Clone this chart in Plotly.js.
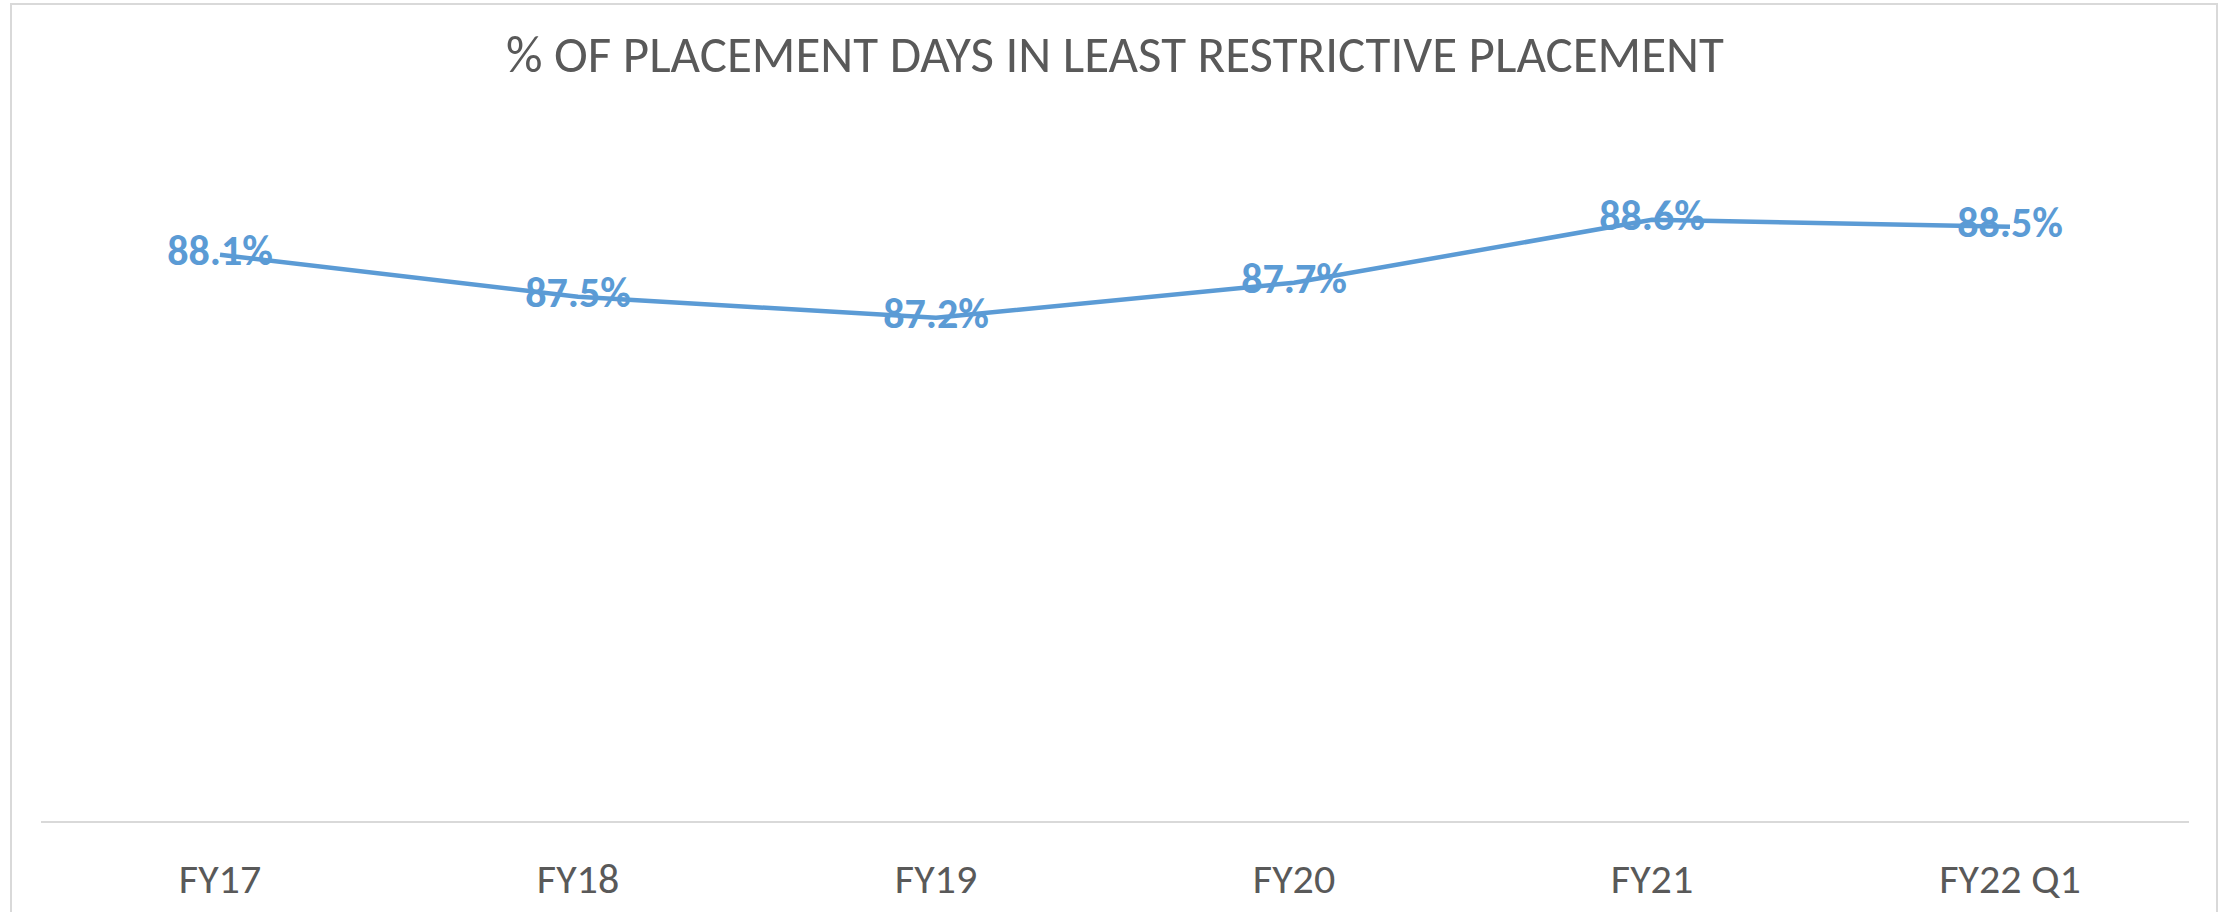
<!DOCTYPE html>
<html>
<head>
<meta charset="utf-8">
<script src="https://cdn.plot.ly/plotly-3.0.1.min.js"></script>
<style>
  html, body { margin: 0; padding: 0; background: #ffffff; overflow: hidden; }
  #frame { position: absolute; left: 10px; top: 3px; width: 2208px; height: 940px; border: 2px solid #d9d9d9; box-sizing: border-box; pointer-events: none; z-index: 5; }
  #chart { position: absolute; left: 0; top: 0; width: 2234px; height: 912px; }
</style>
</head>
<body>
<div id="chart"></div>
<div id="frame"></div>
<script>
const categories = ["FY17", "FY18", "FY19", "FY20", "FY21", "FY22 Q1"];
const values = [0.881, 0.875, 0.872, 0.877, 0.886, 0.885];
const valueLabels = ["88.1%", "87.5%", "87.2%", "87.7%", "88.6%", "88.5%"];
const chartTitle = "% OF PLACEMENT DAYS IN LEAST RESTRICTIVE PLACEMENT";

const fontStack = "Carlito, Calibri, Lato, sans-serif";

const trace = {
  type: "scatter",
  mode: "lines+text",
  x: categories,
  y: values,
  text: valueLabels,
  textposition: "middle center",
  textfont: { family: fontStack, size: 42, color: "#5b9bd5", weight: "bold" },
  line: { color: "#5b9bd5", width: 4.5 },
  hoverinfo: "skip",
  cliponaxis: false
};

const layout = {
  width: 2234,
  height: 912,
  margin: { l: 41, r: 45, t: 122, b: 91, pad: 0 },
  paper_bgcolor: "#ffffff",
  plot_bgcolor: "#ffffff",
  showlegend: false,
  title: {
    text: chartTitle,
    font: { family: fontStack, size: 51, color: "#595959" },
    x: 0.5,
    xref: "paper",
    xanchor: "center",
    y: 1 - 54 / 912,
    yref: "container",
    yanchor: "middle"
  },
  xaxis: {
    type: "category",
    range: [-0.5, 5.5],
    showline: true,
    linecolor: "#d9d9d9",
    linewidth: 2,
    showgrid: false,
    zeroline: false,
    ticks: "outside",
    ticklen: 20,
    tickcolor: "rgba(0,0,0,0)",
    tickfont: { family: fontStack, size: 42, color: "#595959" },
    fixedrange: true
  },
  yaxis: {
    range: [0.80, 0.90],
    visible: false,
    showgrid: false,
    zeroline: false,
    fixedrange: true
  }
};

Plotly.newPlot("chart", [trace], layout, { displayModeBar: false, staticPlot: true });
</script>
</body>
</html>
